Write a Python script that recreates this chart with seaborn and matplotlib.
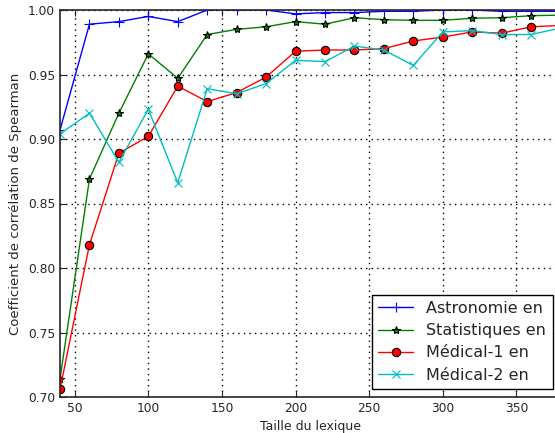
import pandas as pd
import matplotlib
matplotlib.use("Agg")
import matplotlib.pyplot as plt
import seaborn as sns

# lexicon sizes
taille = [40, 60, 80, 100, 120, 140, 160, 180, 200, 220, 240, 260, 280, 300, 320, 340, 360, 380]

astronomie = [0.907, 0.989, 0.991, 0.995, 0.991, 1.000, 1.000, 1.000, 0.997, 0.998,
              0.998, 0.999, 0.999, 1.000, 1.000, 0.999, 0.999, 0.999]
statistiques = [0.714, 0.869, 0.920, 0.966, 0.947, 0.981, 0.985, 0.987, 0.991, 0.989,
                0.994, 0.9925, 0.992, 0.992, 0.9936, 0.994, 0.9956, 0.996]
medical1 = [0.706, 0.818, 0.889, 0.902, 0.941, 0.929, 0.936, 0.948, 0.968, 0.969,
            0.969, 0.970, 0.976, 0.979, 0.983, 0.982, 0.987, 0.988]
medical2 = [0.904, 0.920, 0.882, 0.923, 0.866, 0.939, 0.935, 0.943, 0.961, 0.960,
            0.972, 0.969, 0.957, 0.983, 0.984, 0.981, 0.981, 0.986]

series = [
    ("Astronomie en", astronomie, "blue", "+", "blue", 7),
    ("Statistiques en", statistiques, "green", "*", "black", 6),
    ("Médical-1 en", medical1, "red", "o", "black", 6),
    ("Médical-2 en", medical2, "c", "x", "c", 6),
]

sns.set_style("ticks")
plt.rcParams["font.family"] = ["DejaVu Sans"]

fig = plt.figure(figsize=(5.55, 4.33), dpi=100)
ax = fig.add_axes([60 / 555, 36 / 433, 500.5 / 555, 387 / 433])

for label, vals, color, marker, edge, size in series:
    df = pd.DataFrame({"taille": taille, "score": vals})
    sns.lineplot(data=df, x="taille", y="score", ax=ax, color=color, marker=marker,
                 markersize=size, markeredgecolor=edge, markeredgewidth=0.8,
                 linewidth=1, label=label)

ax.set_xlim(40, 380)
ax.set_ylim(0.70, 1.00)
ax.set_xticks([50, 100, 150, 200, 250, 300, 350])
ax.set_yticks([0.70, 0.75, 0.80, 0.85, 0.90, 0.95, 1.00])
ax.set_yticklabels([f"{v:.2f}" for v in ax.get_yticks()])
ax.grid(True, linestyle=(0, (1, 3)), color="black", linewidth=1.0)
ax.tick_params(direction="in", top=True, right=True, labelsize=8.8, length=4, width=0.8)
for sp in ax.spines.values():
    sp.set_linewidth(1.2)

ax.set_xlabel("Taille du lexique", fontsize=9)
ax.set_ylabel("Coefficient de corrélation de Spearman", fontsize=9.5)

leg = ax.legend(loc="lower right", fontsize=11.5, fancybox=False, framealpha=1,
                edgecolor="black", borderaxespad=0.5, handlelength=2.2,
                labelspacing=0.45, borderpad=0.4)
leg.get_frame().set_linewidth(1.0)

fig.savefig("out.png", dpi=100)
